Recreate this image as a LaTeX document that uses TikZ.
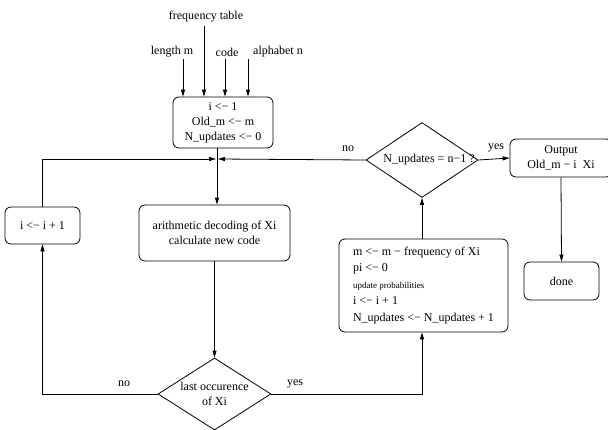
\documentclass[tikz,border=0pt]{standalone}
\usepackage{fontspec}
\setmainfont{Liberation Serif}
\usetikzlibrary{shapes,shapes.geometric,arrows.meta,calc}
\begin{document}
\begin{tikzpicture}[x=1pt,y=1pt,font=\fontsize{12}{15}\selectfont]
			\tikzstyle{box}=[rectangle,rounded corners=6pt,draw,line width=0.8pt,align=center,inner sep=2pt]
			\tikzstyle{dec}=[diamond,draw,line width=0.8pt,inner sep=0pt]
			\tikzstyle{ln}=[line width=0.8pt]
			\tikzstyle{arr}=[ln,-{Triangle[length=7pt,width=4pt]}]
			\useasboundingbox (0,0) rectangle (608,-429);
			\node (freq) at (206,-17) {frequency table};
			\node (len) at (172,-52) {length m};
			\node (code) at (227,-52) {code};
			\node (alph) at (278,-52) {alphabet n};
			\node[box,minimum width=100,minimum height=51] (init) at (223,-122.5) {i <− 1\\Old\_m <− m\\N\_updates <− 0};
			\node[box,minimum width=151,minimum height=56] (calc) at (214.5,-233) {arithmetic decoding of Xi\\calculate new code};
			\node[box,minimum width=75,minimum height=37] (inc) at (42.5,-225.5) {i <− i + 1};
			\node[dec,minimum width=113,minimum height=72] (last) at (214.5,-394) {};
			\node[align=center] (lastText) at (last) {last occurence\\of Xi};
			\node[box,align=left,minimum width=169,minimum height=93,font=\fontsize{12}{16.5}\selectfont] (upd) at (423.5,-285.5) {m <− m − frequency of Xi\\pi <− 0\\{\fontsize{9}{10}\selectfont update probabilities}\\i <− i + 1\\N\_updates <− N\_updates + 1};
			\node[dec,minimum width=112,minimum height=75] (chk) at (422,-160) {};
			\node (chkText) at (429,-160) {N\_updates = n−1 ?};
			\node[box,minimum width=102,minimum height=38] (out) at (561,-158) {Output\\Old\_m − i\enspace Xi};
			\node[box,minimum width=75,minimum height=38] (done) at (561.5,-281) {done};
			\coordinate (inF) at (204,-26);
			\coordinate (inL) at (183,-59);
			\coordinate (inC) at (225,-59);
			\coordinate (inA) at (248,-59);
			\coordinate (mrg) at (217,-159);
			\foreach \p in {inF,inL,inC,inA}
				\draw[arr] (\p) -- (\p |- init.north);
			\draw[arr] (inc.north) |- ($(mrg)+(-1,0)$);
			\draw[arr] (chk.west) -- ($(mrg)+(1,0)$);
			\draw[arr] (init.south -| mrg) -- (calc.north -| mrg);
			\draw[arr] (calc.south) -- (last.north);
			\draw[arr] (last.west) -| (inc.south);
			\draw[arr] (last.east) -| (upd.south -| chk.south);
			\draw[arr] (upd.north -| chk.south) -- (chk.south);
			\draw[arr] (chk.east) -- (out.west);
			\draw[arr] (out.south) -- (done.north);
			\node (no1) at (124,-384) {no};
			\node (yes1) at (295,-384) {yes};
			\node (no2) at (348,-149) {no};
			\node (yes2) at (496,-148) {yes};
		\end{tikzpicture}
\end{document}
